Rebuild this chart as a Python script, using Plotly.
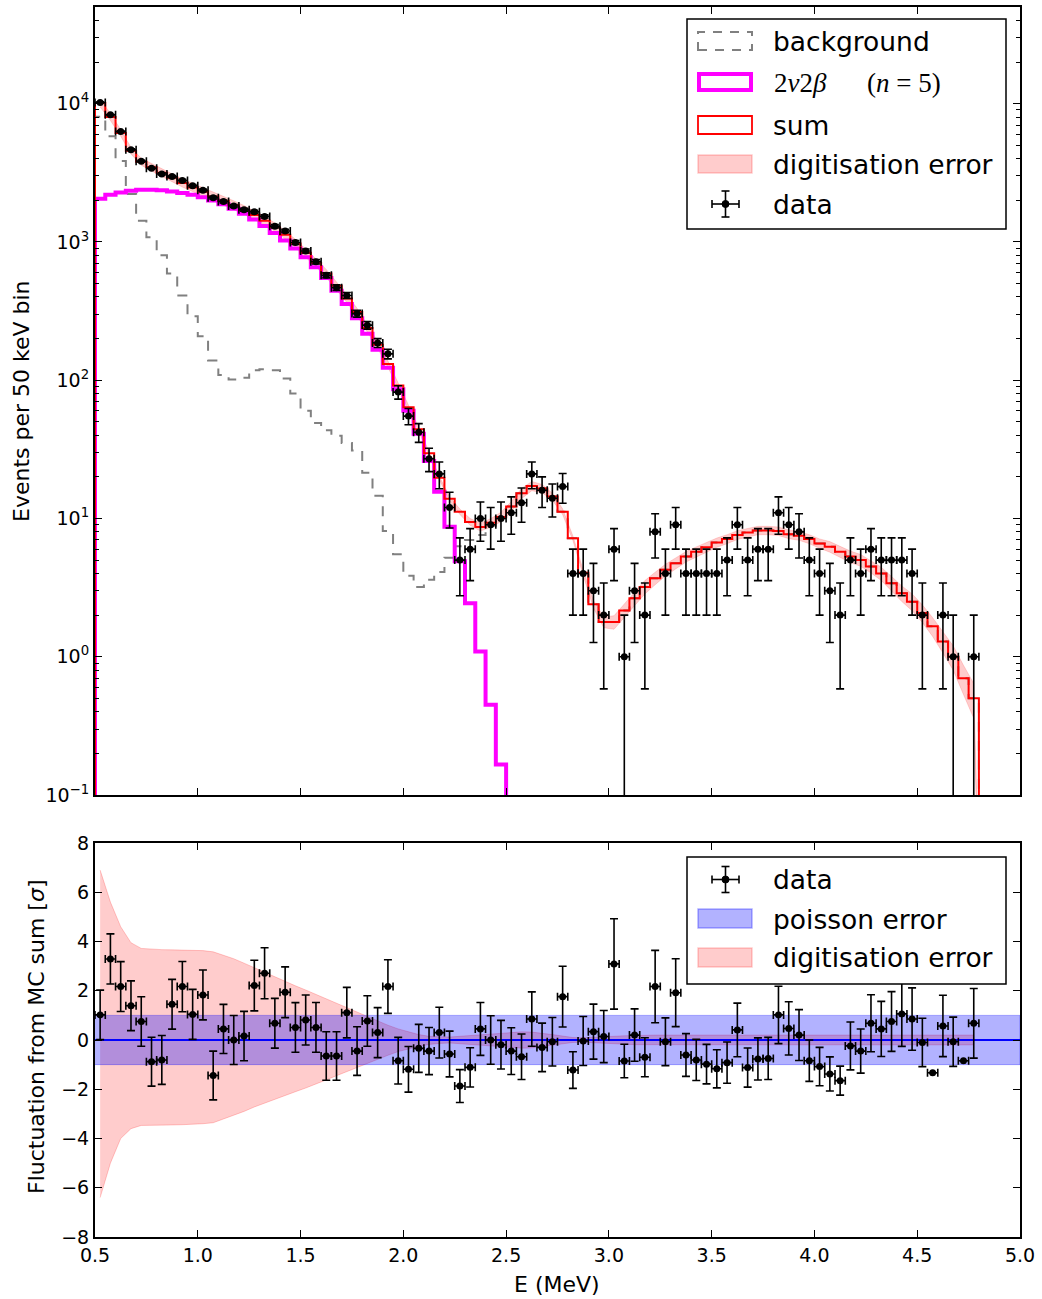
import numpy as np
import plotly.graph_objects as go

# ---------------------------------------------------------------- binning
E_MIN, E_MAX = 0.5, 5.0
BIN_WIDTH = 0.05          # 50 keV bins
LOG_FLOOR = 1e-3          # stands in for empty bins on the log axis

# observed counts per 50 keV bin, 0.50 -> 4.80 MeV
data_counts = [
    10200, 8300, 6290, 4650, 3830, 3410, 3100, 2970, 2780, 2550,
    2360, 2090, 1960, 1820, 1710, 1650, 1530, 1300, 1200, 990,
    860, 720, 573, 467, 410, 303, 250, 186, 155, 82,
    55, 42, 27, 21, 12, 5, 6, 10, 9, 10,
    11, 13, 21, 16, 14, 17, 4, 4, 3, 2,
    6, 1, 3, 2, 8, 4, 9, 4, 4, 4,
    4, 5, 9, 5, 6, 6, 11, 9, 8, 5,
    4, 3, 2, 5, 4, 6, 5, 5, 5, 4,
    2, 0, 2, 1, 0, 1,
]

# expected background per bin
background = [
    8050, 5810, 3850, 2225, 1420, 1080, 800, 590, 410, 290,
    208, 139, 109, 101, 104, 118, 120, 118, 103, 80,
    60, 49, 43.5, 39.6, 35.2, 31, 21.4, 14.6, 8.1, 5.5,
    3.85, 3.2, 3.6, 4.1, 5.2, 6.3, 7.0, 7.6, 8.85, 10.1,
    12.2, 15.2, 17.2, 16.5, 14.4, 11.2, 7.2, 4.05, 2.4, 1.78,
    1.78, 2.16, 2.65, 3.2, 3.7, 4.25, 4.75, 5.3, 5.75, 6.2,
    6.7, 7.1, 7.6, 7.9, 8.2, 8.2, 8.1, 7.7, 7.5, 7.1,
    6.6, 6.25, 5.75, 5.3, 5.0, 4.5, 4.0, 3.4, 2.88, 2.5,
    2.07, 1.66, 1.29, 1.0, 0.70, 0.50,
]

# 2nu2beta spectrum (n = 5), 0.50 -> 2.50 MeV
two_nu_two_beta = [
    2050, 2190, 2280, 2340, 2380, 2385, 2360, 2320, 2260, 2190,
    2100, 1995, 1870, 1740, 1600, 1450, 1305, 1160, 1025, 895,
    775, 657, 548, 443, 355, 280, 217, 166, 123, 86,
    60, 41, 26, 15.6, 8.7, 4.9, 2.44, 1.09, 0.45, 0.166,
]

# fluctuation of data from the MC sum, in units of sigma
fluctuation = [
    1.02, 3.29, 2.17, 1.39, 0.75, -0.88, -0.81, 1.45, 2.17, 1.04,
    1.83, -1.44, 0.45, 0.0, 0.16, 2.21, 2.71, 0.68, 1.94, 0.51,
    0.81, 0.51, -0.65, -0.65, 1.11, -0.45, 0.77, 0.30, 2.17, -0.84,
    -1.19, -0.34, -0.45, 0.30, -0.57, -1.87, -1.11, 0.45, 0.0, -0.19,
    -0.45, -0.68, 0.85, -0.30, -0.07, 1.76, -1.22, -0.04, 0.34, 0.14,
    3.09, -0.85, 0.20, -0.70, 2.17, -0.07, 1.92, -0.61, -0.81, -0.98,
    -1.17, -0.92, 0.41, -1.12, -0.77, -0.75, 1.02, 0.47, 0.20, -0.84,
    -1.08, -1.38, -1.65, -0.24, -0.45, 0.68, 0.45, 0.75, 1.06, 0.85,
    -0.10, -1.33, 0.57, -0.07, -0.84, 0.68,
]

# digitisation error of the MC sum, in units of sigma (upper / lower edge)
digitisation_up = [
    6.9, 5.6, 4.6, 3.95, 3.72, 3.68, 3.67, 3.66, 3.66, 3.65,
    3.63, 3.58, 3.45, 3.3, 3.12, 2.93, 2.74, 2.55, 2.38, 2.2,
    2.03, 1.85, 1.68, 1.5, 1.32, 1.14, 0.96, 0.78, 0.6, 0.45,
    0.32, 0.22, 0.15, 0.12, 0.12, 0.15, 0.18, 0.2, 0.22, 0.26,
    0.3, 0.33, 0.32, 0.28, 0.22, 0.16, 0.1, 0.09, 0.1, 0.12,
    0.15, 0.17, 0.19, 0.2, 0.2, 0.2, 0.2, 0.2, 0.2, 0.2,
    0.2, 0.2, 0.2, 0.2, 0.2, 0.2, 0.2, 0.2, 0.2, 0.2,
    0.2, 0.22, 0.22, 0.22, 0.22, 0.22, 0.22, 0.22, 0.22, 0.22,
    0.21, 0.2, 0.2, 0.2, 0.2, 0.2,
]
digitisation_lo = [
    -6.4, -5.0, -4.0, -3.6, -3.47, -3.46, -3.45, -3.45, -3.44, -3.43,
    -3.4, -3.36, -3.22, -3.05, -2.9, -2.72, -2.55, -2.4, -2.25, -2.1,
    -1.95, -1.8, -1.62, -1.45, -1.28, -1.12, -0.95, -0.78, -0.62, -0.47,
    -0.35, -0.26, -0.18, -0.14, -0.12, -0.15, -0.17, -0.2, -0.22, -0.25,
    -0.3, -0.33, -0.32, -0.28, -0.22, -0.16, -0.1, -0.09, -0.1, -0.12,
    -0.15, -0.17, -0.19, -0.2, -0.2, -0.2, -0.2, -0.2, -0.2, -0.2,
    -0.2, -0.2, -0.2, -0.2, -0.2, -0.2, -0.2, -0.2, -0.2, -0.2,
    -0.2, -0.22, -0.22, -0.22, -0.22, -0.22, -0.22, -0.22, -0.22, -0.22,
    -0.21, -0.2, -0.2, -0.2, -0.2, -0.2,
]

# axis ticks
energy_ticks = [0.5, 1.0, 1.5, 2.0, 2.5, 3.0, 3.5, 4.0, 4.5, 5.0]
energy_tick_labels = ["0.5", "1.0", "1.5", "2.0", "2.5", "3.0", "3.5", "4.0", "4.5", "5.0"]
count_ticks = [0.1, 1, 10, 100, 1000, 10000]
count_tick_labels = ["10<sup>−1</sup>", "10<sup>0</sup>", "10<sup>1</sup>",
                     "10<sup>2</sup>", "10<sup>3</sup>", "10<sup>4</sup>"]
sigma_ticks = [-8, -6, -4, -2, 0, 2, 4, 6, 8]
sigma_tick_labels = ["−8", "−6", "−4", "−2", "0", "2", "4", "6", "8"]

COUNT_RANGE = [0.1, 5e4]
SIGMA_RANGE = [-8, 8]
POISSON_BAND = 1.0

# ---------------------------------------------------------------- derived
n_bins = len(data_counts)
edges = E_MIN + BIN_WIDTH * np.arange(n_bins + 1)
centers = edges[:-1] + BIN_WIDTH / 2

counts = np.array(data_counts, dtype=float)
bkg = np.array(background, dtype=float)
signal = np.zeros(n_bins)
signal[:len(two_nu_two_beta)] = two_nu_two_beta
mc_sum = bkg + signal
mc_sigma = np.sqrt(mc_sum)

up = np.array(digitisation_up)
lo = np.array(digitisation_lo)
band_hi = mc_sum + up * mc_sigma
band_lo = mc_sum + lo * mc_sigma


def hist_steps(values):
    """Outline of a histogram that rises from and returns to the floor."""
    m = len(values)
    xs = [edges[0]] + list(edges[:m]) + [edges[m]]
    ys = [LOG_FLOOR] + list(values) + [LOG_FLOOR]
    return xs, ys


# ---------------------------------------------------------------- figure
W, H = 1042, 1299
BLACK = "#000000"
FONT = "DejaVu Sans, sans-serif"

fig = go.Figure()

# background (dashed grey histogram)
bx, by = hist_steps(bkg)
fig.add_trace(go.Scatter(x=bx, y=by, mode="lines", xaxis="x", yaxis="y",
                         line=dict(color="#808080", width=2, dash="10px,9px", shape="hv"),
                         hoverinfo="skip"))

# digitisation error band around the sum
poly_x = list(centers) + [centers[-1] + BIN_WIDTH] + list(centers[::-1])
poly_y = list(band_hi) + [LOG_FLOOR] + list(band_lo[::-1])
fig.add_trace(go.Scatter(x=poly_x, y=poly_y, mode="lines", fill="toself",
                         fillcolor="rgba(255,0,0,0.2)",
                         line=dict(color="rgba(255,0,0,0.15)", width=1),
                         xaxis="x", yaxis="y", hoverinfo="skip"))

# 2nu2beta histogram
sx, sy = hist_steps(two_nu_two_beta)
fig.add_trace(go.Scatter(x=sx, y=sy, mode="lines", xaxis="x", yaxis="y",
                         line=dict(color="#ff00ff", width=4, shape="hv"),
                         hoverinfo="skip"))

# MC sum histogram
mx, my = hist_steps(mc_sum)
fig.add_trace(go.Scatter(x=mx, y=my, mode="lines", xaxis="x", yaxis="y",
                         line=dict(color="#ff0000", width=2, shape="hv"),
                         hoverinfo="skip"))

# data with Poisson errors
err = np.sqrt(counts)
err_minus = np.where(counts - err > 0, err, counts - LOG_FLOOR)
data_y = [c if c > 0 else None for c in counts]
fig.add_trace(go.Scatter(
    x=centers, y=data_y, mode="markers", xaxis="x", yaxis="y",
    marker=dict(color=BLACK, size=7),
    error_y=dict(type="data", array=err, arrayminus=err_minus, color=BLACK,
                 thickness=1.6, width=4),
    error_x=dict(type="constant", value=BIN_WIDTH / 2, color=BLACK,
                 thickness=1.6, width=4),
    hoverinfo="skip"))

# ---- lower panel
fig.add_trace(go.Scatter(x=list(centers) + list(centers[::-1]),
                         y=list(up) + list(lo[::-1]),
                         mode="lines", fill="toself",
                         fillcolor="rgba(255,0,0,0.2)",
                         line=dict(color="rgba(255,0,0,0.2)", width=1),
                         xaxis="x2", yaxis="y2", hoverinfo="skip"))
fig.add_trace(go.Scatter(x=[E_MIN, E_MAX, E_MAX, E_MIN],
                         y=[POISSON_BAND, POISSON_BAND, -POISSON_BAND, -POISSON_BAND],
                         mode="lines", fill="toself",
                         fillcolor="rgba(0,0,255,0.3)",
                         line=dict(color="rgba(0,0,255,0.3)", width=1),
                         xaxis="x2", yaxis="y2", hoverinfo="skip"))
fig.add_trace(go.Scatter(x=[E_MIN, E_MAX], y=[0, 0], mode="lines",
                         line=dict(color="#0000ff", width=2),
                         xaxis="x2", yaxis="y2", hoverinfo="skip"))
fig.add_trace(go.Scatter(
    x=centers, y=fluctuation, mode="markers", xaxis="x2", yaxis="y2",
    marker=dict(color=BLACK, size=7),
    error_y=dict(type="data", array=np.sqrt(counts / mc_sum), color=BLACK,
                 thickness=1.6, width=4),
    error_x=dict(type="constant", value=BIN_WIDTH / 2, color=BLACK,
                 thickness=1.6, width=4),
    hoverinfo="skip"))

# ---------------------------------------------------------------- axes
X_DOMAIN = [95 / W, 1020 / W]
TOP_DOMAIN = [1 - 795 / H, 1 - 7 / H]
BOTTOM_DOMAIN = [1 - 1237 / H, 1 - 843 / H]

axis_common = dict(showline=True, linecolor=BLACK, linewidth=2, mirror="allticks",
                   ticks="inside", ticklen=7, tickwidth=1, tickcolor=BLACK,
                   showgrid=False, zeroline=False, automargin=False,
                   tickfont=dict(family=FONT, size=19, color=BLACK))

minor_log_ticks = [m * 10.0 ** k for k in range(-1, 5) for m in range(2, 10)]

fig.update_layout(
    template="none",
    width=W, height=H, autosize=False,
    margin=dict(l=0, r=0, t=0, b=0, pad=0),
    paper_bgcolor="white", plot_bgcolor="white",
    showlegend=False,
    font=dict(family=FONT, color=BLACK, size=19),
    xaxis=dict(domain=X_DOMAIN, anchor="y", range=[E_MIN, E_MAX],
               tickmode="array", tickvals=energy_ticks, showticklabels=False,
               **axis_common),
    yaxis=dict(domain=TOP_DOMAIN, anchor="x", type="log",
               range=[np.log10(COUNT_RANGE[0]), np.log10(COUNT_RANGE[1])],
               tickmode="array", tickvals=count_ticks, ticktext=count_tick_labels,
               minor=dict(tickmode="array", tickvals=minor_log_ticks,
                          ticks="inside", ticklen=4, tickwidth=1, tickcolor=BLACK,
                          showgrid=False),
               **axis_common),
    xaxis2=dict(domain=X_DOMAIN, anchor="y2", range=[E_MIN, E_MAX],
                tickmode="array", tickvals=energy_ticks, ticktext=energy_tick_labels,
                **axis_common),
    yaxis2=dict(domain=BOTTOM_DOMAIN, anchor="x2", range=SIGMA_RANGE,
                tickmode="array", tickvals=sigma_ticks, ticktext=sigma_tick_labels,
                **axis_common),
)


# ---------------------------------------------------------------- text & legends
def px(x):
    return x / W


def py(y):
    return 1 - y / H


annotations = [
    dict(text="Events per 50 keV bin", x=px(21), y=py(401), textangle=-90,
         font=dict(family=FONT, size=22, color=BLACK)),
    dict(text="Fluctuation from MC sum [<i>σ</i>]", x=px(36), y=py(1037), textangle=-90,
         font=dict(family=FONT, size=22, color=BLACK)),
    dict(text="E (MeV)", x=px(557), y=py(1284),
         font=dict(family=FONT, size=22, color=BLACK)),
]
for a in annotations:
    a.update(xref="paper", yref="paper", showarrow=False,
             xanchor="center", yanchor="middle")

shapes = []


def legend_frame(y0, y1):
    shapes.append(dict(type="rect", xref="paper", yref="paper",
                       x0=px(687), x1=px(1006), y0=py(y1), y1=py(y0),
                       line=dict(color=BLACK, width=1.5), fillcolor="white",
                       layer="above"))


def legend_box(y0, y1, line, fill="rgba(0,0,0,0)", x0=698, x1=752):
    shapes.append(dict(type="rect", xref="paper", yref="paper",
                       x0=px(x0), x1=px(x1), y0=py(y1), y1=py(y0),
                       line=line, fillcolor=fill, layer="above"))


def legend_errorbar(cy, cx=725.5, hx=13.5, hy=13, cap=4):
    segs = [
        (cx - hx, cy, cx + hx, cy),
        (cx, cy - hy, cx, cy + hy),
        (cx - hx, cy - cap, cx - hx, cy + cap),
        (cx + hx, cy - cap, cx + hx, cy + cap),
        (cx - cap, cy - hy, cx + cap, cy - hy),
        (cx - cap, cy + hy, cx + cap, cy + hy),
    ]
    for x0, y0, x1, y1 in segs:
        shapes.append(dict(type="line", xref="paper", yref="paper",
                           x0=px(x0), x1=px(x1), y0=py(y0), y1=py(y1),
                           line=dict(color=BLACK, width=1.6), layer="above"))
    r = 3.5
    shapes.append(dict(type="circle", xref="paper", yref="paper",
                       x0=px(cx - r), x1=px(cx + r), y0=py(cy + r), y1=py(cy - r),
                       line=dict(color=BLACK, width=1), fillcolor=BLACK, layer="above"))


def legend_text(text, y, x=771, family=FONT, size=26.5):
    annotations.append(dict(text=text, x=px(x), y=py(y), xref="paper", yref="paper",
                            showarrow=False, xanchor="left", yanchor="middle",
                            font=dict(family=family, size=size, color=BLACK)))


# upper legend
legend_frame(19, 229)
legend_box(32, 50, dict(color="#808080", width=2, dash="9px,8px"))
legend_box(74, 90, dict(color="#ff00ff", width=4), x0=699, x1=751)
legend_box(116, 134, dict(color="#ff0000", width=1.8))
legend_box(155, 173, dict(color="rgba(255,0,0,0.2)", width=1.5), fill="rgba(255,0,0,0.2)")
legend_errorbar(204)
legend_text("background", 41)
legend_text("2<i>ν</i>2<i>β</i>", 83, x=772, family="Liberation Serif, serif", size=27)
legend_text("(<i>n</i> = 5)", 83, x=865, family="Liberation Serif, serif", size=27)
legend_text("sum", 125)
legend_text("digitisation error", 164)
legend_text("data", 204)

# lower legend
legend_frame(857, 984)
legend_errorbar(879.5)
legend_box(909, 928, dict(color="rgba(0,0,255,0.3)", width=1.5), fill="rgba(0,0,255,0.3)")
legend_box(948, 967, dict(color="rgba(255,0,0,0.2)", width=1.5), fill="rgba(255,0,0,0.2)")
legend_text("data", 879)
legend_text("poisson error", 919)
legend_text("digitisation error", 957)

fig.update_layout(annotations=annotations, shapes=shapes)

fig.write_html("out.html")
